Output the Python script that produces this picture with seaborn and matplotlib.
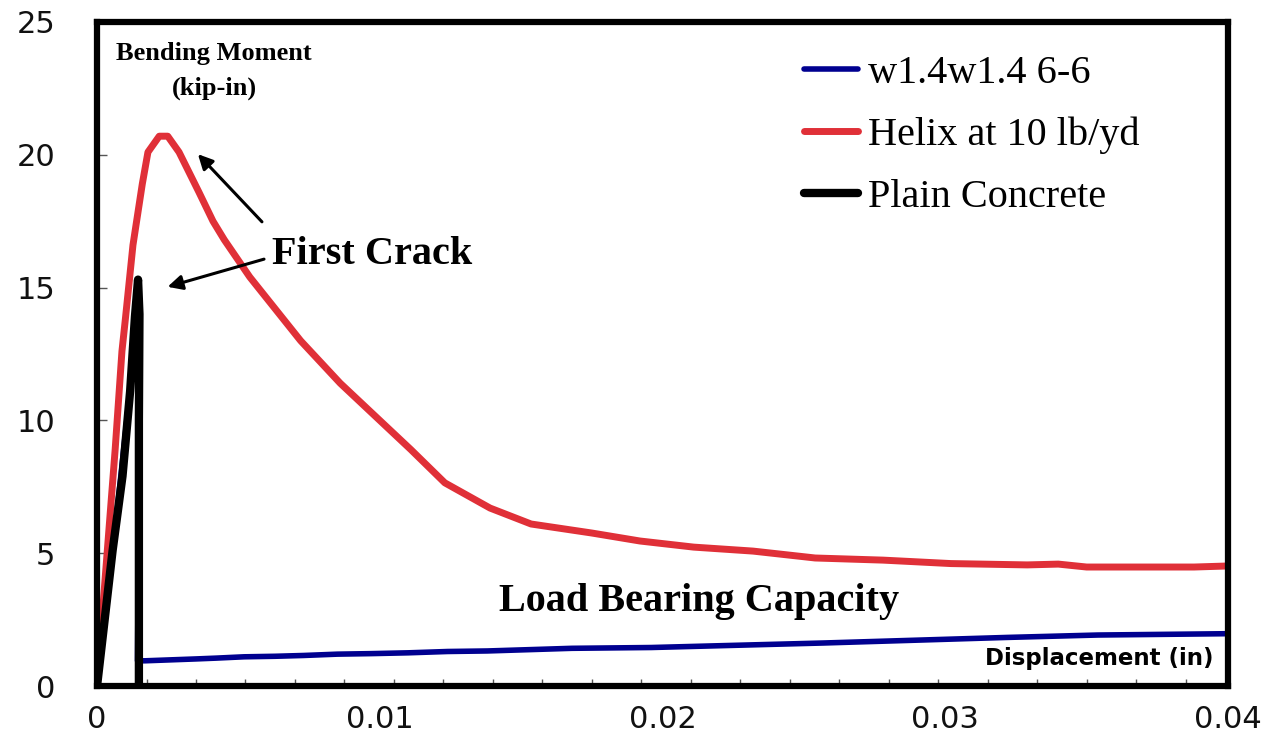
import numpy as np
import pandas as pd
import matplotlib
matplotlib.use("Agg")
import matplotlib.pyplot as plt
from matplotlib.ticker import MultipleLocator
import seaborn as sns

# w1.4w1.4 6-6 (blue)
wire_x = [0, 0.0006, 0.0011, 0.00145, 0.00152, 0.00143, 0.0017, 0.0035, 0.0042, 0.0052, 0.0063,
          0.0073, 0.0085, 0.0097, 0.011, 0.0124, 0.0138, 0.0168, 0.0196, 0.0257, 0.0322, 0.0354, 0.04]
wire_y = [0, 5.5, 10.5, 13.8, 12.5, 0.95, 0.95, 1.02, 1.05, 1.1, 1.12,
          1.15, 1.2, 1.22, 1.25, 1.3, 1.32, 1.42, 1.45, 1.62, 1.83, 1.92, 1.97]

# Helix at 10 lb/yd (red)
helix_x = [0, 0.00018, 0.00064, 0.00088, 0.001, 0.00127, 0.0016, 0.0018, 0.0022, 0.0025, 0.0029,
           0.0036, 0.0041, 0.0045, 0.0054, 0.0072, 0.0086, 0.01, 0.0111, 0.0123, 0.0139, 0.01535,
           0.0175, 0.0192, 0.0211, 0.0232, 0.0254, 0.0278, 0.0302, 0.0329, 0.034, 0.035, 0.0362,
           0.0388, 0.04]
helix_y = [0, 2.6, 8.9, 12.6, 13.8, 16.6, 18.9, 20.1, 20.7, 20.7, 20.1,
           18.6, 17.5, 16.8, 15.4, 13.0, 11.4, 10.0, 8.9, 7.65, 6.7, 6.1,
           5.76, 5.46, 5.23, 5.08, 4.82, 4.74, 4.61, 4.56, 4.59, 4.48, 4.48,
           4.48, 4.52]

# Plain Concrete (black)
plain_x = [0, 0.00055, 0.0009, 0.00117, 0.00134, 0.00145, 0.0015, 0.00148, 0.00148]
plain_y = [0, 5.1, 7.9, 11.1, 13.9, 15.3, 14.0, 10.0, 0]

series = [("w1.4w1.4 6-6", wire_x, wire_y, "#000090", 4),
          ("Helix at 10 lb/yd", helix_x, helix_y, "#e03038", 5),
          ("Plain Concrete", plain_x, plain_y, "black", 6)]

sns.set_theme(style="white")
plt.rcParams["font.family"] = ["DejaVu Sans"]

fig = plt.figure(figsize=(12.72, 7.5), dpi=100)
ax = fig.add_axes([0.0763, 0.0853, 0.8891, 0.8854])

for name, xs, ys, col, lw in series:
    df = pd.DataFrame({"x": xs, "y": ys})
    sns.lineplot(data=df, x="x", y="y", sort=False, estimator=None, color=col,
                 linewidth=lw, label=name, ax=ax)

ax.set_xlim(0, 0.04)
ax.set_ylim(0, 25)
ax.set_xticks([0, 0.01, 0.02, 0.03, 0.04])
ax.set_xticklabels(["0", "0.01", "0.02", "0.03", "0.04"])
ax.set_yticks([0, 5, 10, 15, 20, 25])
ax.xaxis.set_minor_locator(MultipleLocator(0.00175))
ax.tick_params(axis="x", which="major", length=0, pad=14, labelsize=22, labelcolor="#111111")
ax.tick_params(axis="x", which="minor", direction="in", length=5, width=1, color="#555555", bottom=True)
ax.tick_params(axis="y", which="major", direction="in", length=7, width=1, color="#555555",
               pad=30, labelsize=22, labelcolor="#111111", left=True)
ax.set_xlabel("")
ax.set_ylabel("")
for s in ax.spines.values():
    s.set_linewidth(4.5)
    s.set_color("black")

leg = ax.legend(loc="upper right", frameon=False, prop={"family": "Liberation Serif", "size": 29},
                handlelength=1.35, labelspacing=0.61, handletextpad=0.25,
                bbox_to_anchor=(0.954, 1.005))
for t in leg.get_texts():
    t.set_color("black")

serif_bold = {"family": "Liberation Serif", "weight": "bold", "color": "black"}
ax.text(0.00414, 23.83, "Bending Moment", fontsize=19, ha="center", va="center", **serif_bold)
ax.text(0.00414, 22.5, "(kip-in)", fontsize=19, ha="center", va="center", **serif_bold)
ax.text(0.0062, 16.25, "First Crack", fontsize=29, ha="left", va="center", **serif_bold)
ax.text(0.0142, 3.2, "Load Bearing Capacity", fontsize=29, ha="left", va="center", **serif_bold)
ax.text(0.0395, 1.05, "Displacement (in)", fontsize=16.5, ha="right", va="center",
        family="DejaVu Sans", weight="bold", color="black")

arrow = dict(arrowstyle="-|>", color="black", lw=2.2, mutation_scale=22)
ax.annotate("", xy=(0.0035, 20.1), xytext=(0.0059, 17.4), arrowprops=arrow)
ax.annotate("", xy=(0.0024, 15.0), xytext=(0.006, 16.1), arrowprops=arrow)

fig.savefig("out.png", dpi=100, facecolor="white")
